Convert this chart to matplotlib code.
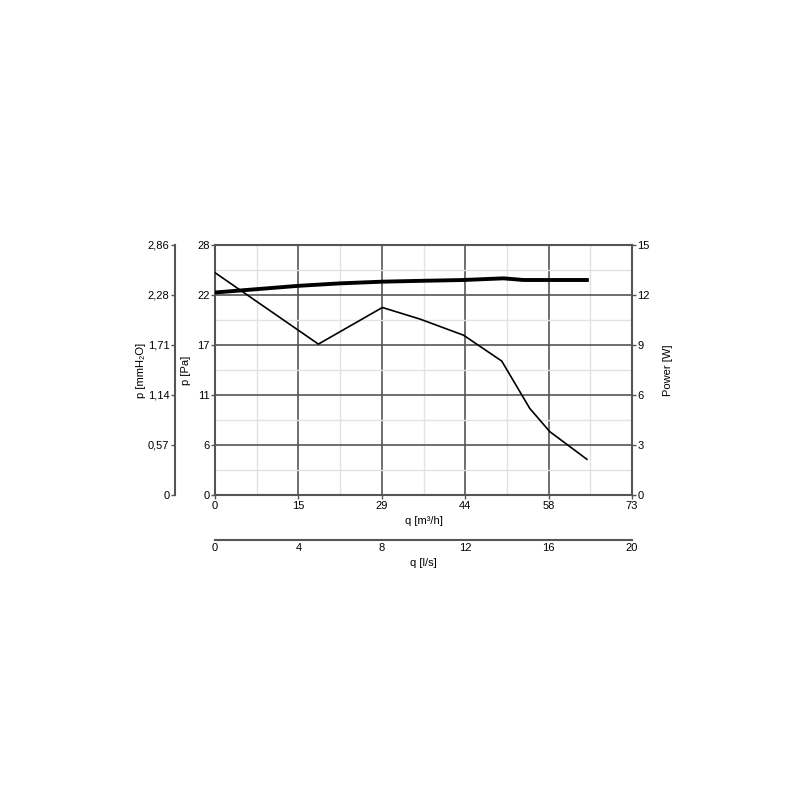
import numpy as np
import matplotlib
matplotlib.use("Agg")
import matplotlib.pyplot as plt
from matplotlib.ticker import FixedLocator

# 圧力曲線 q [m3/h] -> p [Pa]
q_p = [0, 18.1, 29.3, 35.9, 43.5, 50.2, 55.1, 58.6, 65.1]
p_pa = [24.9, 16.9, 21.0, 19.7, 17.9, 15.0, 9.7, 7.1, 4.0]

# 消費電力 q [m3/h] -> P [W]
q_w = [0, 7.3, 14.6, 22.0, 29.3, 36.0, 43.5, 50.5, 54.0, 58.6, 65.1]
p_w = [12.15, 12.35, 12.55, 12.7, 12.8, 12.85, 12.9, 13.0, 12.9, 12.9, 12.9]

q_max = 73
pa_max = 28
w_max = 15
mm_max = pa_max / 9.80665
ls_max = 20

q_labels = ["0", "15", "29", "44", "58", "73"]
pa_labels = ["0", "6", "11", "17", "22", "28"]
mm_labels = ["0", "0,57", "1,14", "1,71", "2,28", "2,86"]
w_labels = ["0", "3", "6", "9", "12", "15"]
ls_labels = ["0", "4", "8", "12", "16", "20"]

plt.rcParams["font.family"] = ["Liberation Sans", "DejaVu Sans"]
plt.rcParams["font.size"] = 8

spine_c = "#555555"
fig = plt.figure(figsize=(8, 8), dpi=100)
ax = fig.add_axes([0.26875, 0.38125, 0.52125, 0.3125])

ax.set_xlim(0, q_max)
ax.set_ylim(0, pa_max)
xt = np.linspace(0, q_max, 6)
yt = np.linspace(0, pa_max, 6)
ax.set_xticks(xt, q_labels)
ax.set_yticks(yt, pa_labels)
ax.xaxis.set_minor_locator(FixedLocator((xt[:-1] + xt[1:]) / 2))
ax.yaxis.set_minor_locator(FixedLocator((yt[:-1] + yt[1:]) / 2))
ax.grid(which="major", color="#555555", lw=1.2)
ax.grid(which="minor", color="#e2e2e2", lw=1.0)
ax.tick_params(which="minor", length=0)
ax.tick_params(which="major", length=3, width=1, color=spine_c, pad=1)
for s in ax.spines.values():
    s.set_color(spine_c)
    s.set_linewidth(1.5)
ax.set_axisbelow(True)
ax.set_xlabel("q [m³/h]", labelpad=4)
ax.set_ylabel("p [Pa]", labelpad=4)

ax.plot(q_p, p_pa, color="black", lw=1.2, zorder=3)

# 電力軸（右）
axw = ax.twinx()
axw.set_ylim(0, w_max)
axw.set_yticks(np.linspace(0, w_max, 6), w_labels)
axw.tick_params(length=3, width=1, color=spine_c, pad=1)
for s in axw.spines.values():
    s.set_visible(False)
axw.set_ylabel("Power [W]", labelpad=9)
axw.plot(q_w, p_w, color="black", lw=2.8, zorder=3)

# mmH2O 軸（左外側）
axm = ax.twinx()
axm.set_ylim(0, mm_max)
axm.yaxis.tick_left()
axm.yaxis.set_label_position("left")
axm.set_yticks(np.linspace(0, mm_max, 6), mm_labels)
axm.tick_params(length=3, width=1, color=spine_c, pad=1)
for s in axm.spines.values():
    s.set_visible(False)
axm.spines["left"].set_visible(True)
axm.spines["left"].set_position(("outward", 28.8))
axm.spines["left"].set_color(spine_c)
axm.spines["left"].set_linewidth(1.5)
axm.set_ylabel("p [mmH₂O]", labelpad=1)

# l/s 軸（下側）
sec = ax.secondary_xaxis("bottom", functions=(lambda q: q * ls_max / q_max,
                                              lambda l: l * q_max / ls_max))
sec.set_xticks(np.linspace(0, ls_max, 6), ls_labels)
sec.spines["bottom"].set_position(("outward", 32.4))
sec.spines["bottom"].set_color(spine_c)
sec.spines["bottom"].set_linewidth(1.5)
sec.tick_params(length=0, pad=2.5)
sec.set_xlabel("q [l/s]", labelpad=3)

fig.savefig("out.png", dpi=100)
